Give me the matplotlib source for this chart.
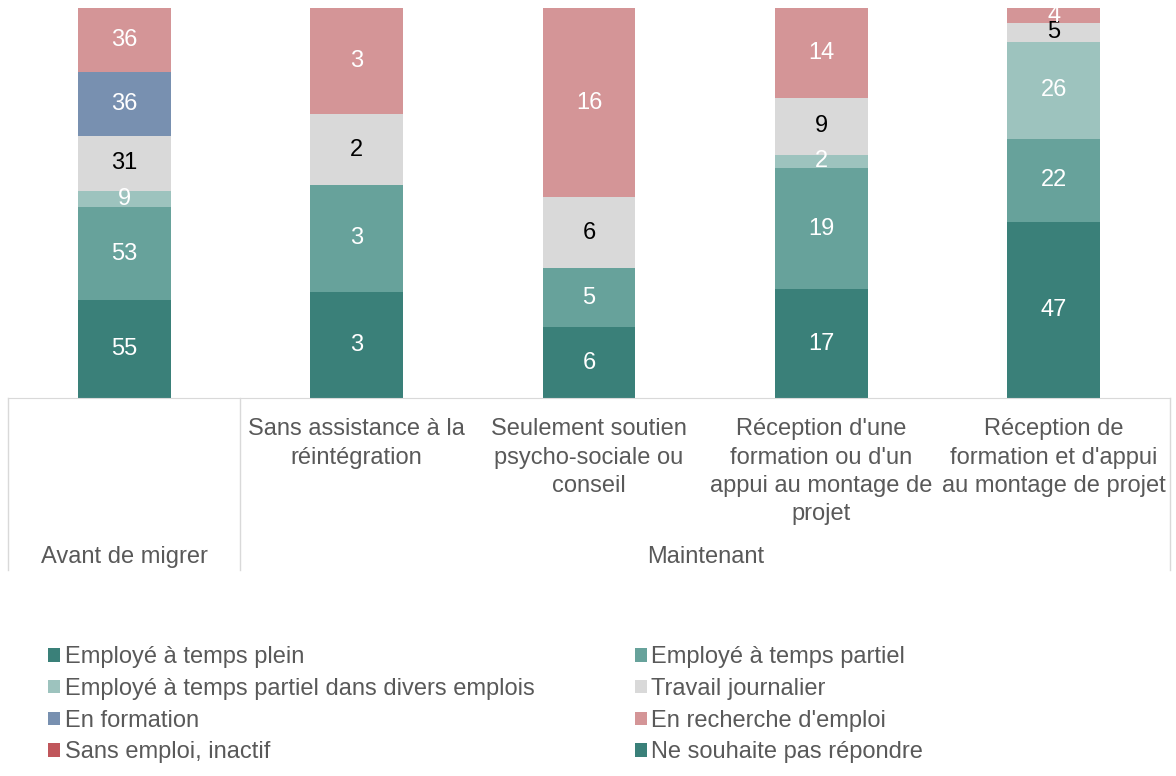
import numpy as np
import matplotlib.pyplot as plt
from matplotlib.patches import Patch
from matplotlib.lines import Line2D
import matplotlib.transforms as mtransforms

plt.rcParams['font.family'] = ['Liberation Sans', 'DejaVu Sans']

categories = [
    'Sans assistance à la\nréintégration',
    'Seulement soutien\npsycho-sociale ou\nconseil',
    "Réception d'une\nformation ou d'un\nappui au montage de\nprojet",
    "Réception de\nformation et d'appui\nau montage de projet",
]
category_labels = [''] + categories
groups = ['Avant de migrer', 'Maintenant']

series_names = [
    'Employé à temps plein',
    'Employé à temps partiel',
    'Employé à temps partiel dans divers emplois',
    'Travail journalier',
    'En formation',
    "En recherche d'emploi",
    'Sans emploi, inactif',
    'Ne souhaite pas répondre',
]
temps_plein = [55, 3, 6, 17, 47]
temps_partiel = [53, 3, 5, 19, 22]
divers_emplois = [9, 0, 0, 2, 26]
journalier = [31, 2, 6, 9, 5]
formation = [36, 0, 0, 0, 0]
recherche = [36, 3, 16, 14, 4]
sans_emploi = [0, 0, 0, 0, 0]
ne_repond_pas = [0, 0, 0, 0, 0]

colors = ['#3a8079', '#67a29b', '#9dc3be', '#d9d9d9',
          '#7890b0', '#d49597', '#c0565b', '#3a8079']
label_colors = ['white', 'white', 'white', 'black',
                'white', 'white', 'white', 'white']

data = np.array([temps_plein, temps_partiel, divers_emplois, journalier,
                 formation, recherche, sans_emploi, ne_repond_pas], dtype=float)
totals = data.sum(axis=0)
pct = data / totals * 100

fs = 17
fig = plt.figure(figsize=(11.76, 7.76), dpi=100)
ax = fig.add_axes([8 / 1176, 1 - 398 / 776, 1162 / 1176, 390 / 776])

x = np.arange(len(totals))
bottom = np.zeros(len(totals))
for i, name in enumerate(series_names):
    bars = ax.bar(x, pct[i], 0.4, bottom=bottom, color=colors[i], label=name)
    for j, b in enumerate(bars):
        if data[i, j] > 0:
            ax.text(b.get_x() + b.get_width() / 2, bottom[j] + pct[i, j] / 2,
                    '%d' % data[i, j], ha='center', va='center',
                    fontsize=fs, color=label_colors[i])
    bottom += pct[i]

ax.set_xlim(-0.5, 4.5)
ax.set_ylim(0, 100)
ax.set_xticks([])
ax.set_yticks([])
for s in ['top', 'left', 'right']:
    ax.spines[s].set_visible(False)
ax.spines['bottom'].set_color('#d9d9d9')

# multi-level category axis
trans = mtransforms.blended_transform_factory(ax.transData, ax.transAxes)
txt = '#595959'
for j, lab in enumerate(category_labels):
    ax.text(j, -0.052, lab, transform=trans, ha='center', va='top',
            fontsize=fs, color=txt, linespacing=1.37)
ax.text(0, -0.407, groups[0], transform=trans, ha='center', va='center',
        fontsize=fs, color=txt)
ax.text(2.5, -0.407, groups[1], transform=trans, ha='center', va='center',
        fontsize=fs, color=txt)
for xs in [-0.5, 0.5, 4.5]:
    ax.add_line(Line2D([xs, xs], [0, -0.442], transform=trans,
                       color='#d9d9d9', lw=1, clip_on=False))

# legend, filled row by row
order = [0, 2, 4, 6, 1, 3, 5, 7]
handles = [Patch(facecolor=colors[k]) for k in order]
labels = [series_names[k] for k in order]
fig.legend(handles, labels, ncol=2, loc='upper left',
           bbox_to_anchor=(27 / 1176, 1 - 625 / 776), frameon=False,
           fontsize=fs, handlelength=0.5, handleheight=0.5,
           handletextpad=0.2, columnspacing=4.25, labelspacing=0.41,
           labelcolor=txt)

plt.savefig('out.png', dpi=100)
